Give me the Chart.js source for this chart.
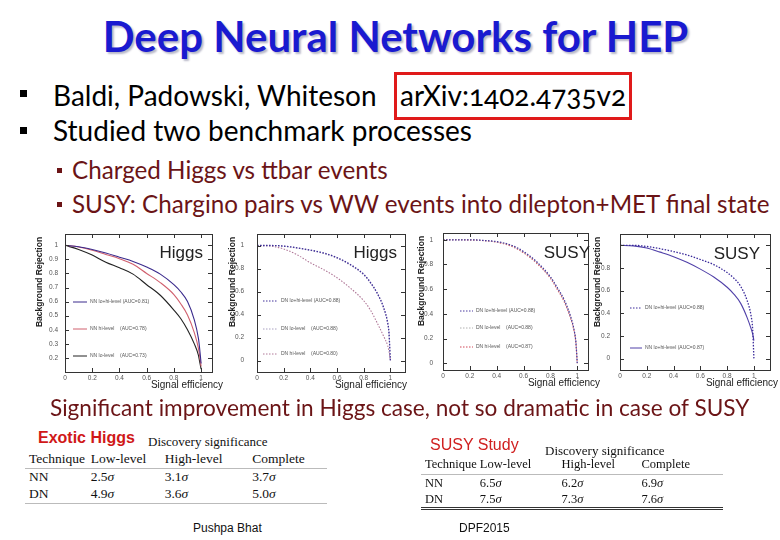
<!DOCTYPE html>
<html>
<head>
<meta charset="utf-8">
<script src="https://cdn.jsdelivr.net/npm/chart.js@4.4.1/dist/chart.umd.min.js"></script>
<style>
  html, body { margin: 0; padding: 0; background: #fff; }
  #slide { position: relative; width: 780px; height: 540px; overflow: hidden; background: #fff; font-family: Lato, "Open Sans", sans-serif; }
  .t { position: absolute; white-space: nowrap; line-height: 1; }
  .sq { position: absolute; }
  canvas { position: absolute; }
  .sig { position: absolute; border-collapse: collapse; font-family: "Liberation Serif", "DejaVu Serif", serif; color: #111; }
  .sig td { padding: 0; white-space: nowrap; }
  .cap { position: absolute; white-space: nowrap; line-height: 1; }
</style>
</head>
<body>
<div id="slide">
  <div class="t" style="left:0;width:791px;text-align:center;top:15px;font-size:42px;font-weight:bold;color:#1a1ad0;text-shadow:2px 2px 2px #b8b8c8;">Deep Neural Networks for HEP</div>

  <div class="sq" style="left:20px;top:90px;width:7px;height:7px;background:#000;"></div>
  <div class="t" style="left:53px;top:81px;font-size:28px;color:#000;">Baldi, Padowski, Whiteson</div>
  <div style="position:absolute;left:394px;top:72px;width:232px;height:42px;border:3px solid #e01a1a;"></div>
  <div class="t" style="left:400px;top:81px;font-size:28px;color:#000;font-variant-numeric:oldstyle-nums;">arXiv:1402.4735v2</div>

  <div class="sq" style="left:20px;top:127px;width:7px;height:7px;background:#000;"></div>
  <div class="t" style="left:53px;top:116px;font-size:28px;color:#000;">Studied two benchmark processes</div>

  <div class="sq" style="left:57px;top:168px;width:5px;height:5px;background:#6b1416;"></div>
  <div class="t" style="left:72px;top:158px;font-size:24.2px;color:#6b1416;">Charged Higgs vs ttbar events</div>
  <div class="sq" style="left:57px;top:202px;width:5px;height:5px;background:#6b1416;"></div>
  <div class="t" style="left:72px;top:192px;font-size:24.2px;color:#6b1416;">SUSY: Chargino pairs vs WW events into dilepton+MET final state</div>

  <canvas id="c1" width="200" height="168" style="left:30px;top:228px;"></canvas>
  <canvas id="c2" width="190" height="168" style="left:224px;top:228px;"></canvas>
  <canvas id="c3" width="190" height="168" style="left:410px;top:227px;"></canvas>
  <canvas id="c4" width="192" height="168" style="left:588px;top:228px;"></canvas>

  <div class="t" style="left:50px;top:397px;font-size:22.6px;color:#6b1416;">Significant improvement in Higgs case, not so dramatic in case of SUSY</div>

  <div class="cap" style="left:38px;top:430px;font-family:'Liberation Sans',Arial,sans-serif;font-size:16px;font-weight:bold;color:#d01818;">Exotic Higgs</div>
  <div class="cap" style="left:148px;top:435px;font-family:'Liberation Serif',serif;font-size:13px;color:#111;">Discovery significance</div>
  <table class="sig" id="tabHiggs" style="left:25px;top:451px;width:302px;font-size:13.5px;"></table>

  <div class="cap" style="left:430px;top:437px;font-family:'Liberation Sans',Arial,sans-serif;font-size:16px;color:#d02020;">SUSY Study</div>
  <div class="cap" style="left:545px;top:444px;font-family:'Liberation Serif',serif;font-size:13px;color:#111;">Discovery significance</div>
  <table class="sig" id="tabSusy" style="left:421px;top:456px;width:302px;font-size:12.5px;"></table>

  <div class="cap" style="left:193px;top:522px;font-family:'Liberation Sans',Arial,sans-serif;font-size:12px;color:#111;">Pushpa Bhat</div>
  <div class="cap" style="left:459px;top:522px;font-family:'Liberation Sans',Arial,sans-serif;font-size:12px;color:#111;">DPF2015</div>
</div>

<script>
// signal efficiency points shared by every ROC curve
const effSteps = [0, 0.1, 0.2, 0.3, 0.4, 0.5, 0.6, 0.7, 0.8, 0.85, 0.9, 0.95, 0.98, 0.99, 1.0];

// Higgs, shallow NN
const higgsNNLoHi = [1.0, 0.99, 0.97, 0.945, 0.915, 0.885, 0.845, 0.795, 0.72, 0.67, 0.60, 0.47, 0.34, 0.26, 0.16];
const higgsNNHi   = [1.0, 0.988, 0.965, 0.935, 0.905, 0.865, 0.80, 0.735, 0.65, 0.585, 0.505, 0.38, 0.27, 0.21, 0.14];
const higgsNNLo   = [1.0, 0.97, 0.93, 0.88, 0.84, 0.795, 0.72, 0.645, 0.54, 0.48, 0.40, 0.30, 0.22, 0.17, 0.12];

// Higgs, deep network
const higgsDNLoHi = [1.0, 1.0, 0.995, 0.98, 0.96, 0.935, 0.895, 0.835, 0.75, 0.68, 0.59, 0.46, 0.33, 0.24, 0.0];
const higgsDNLo   = [1.0, 1.0, 0.993, 0.978, 0.957, 0.93, 0.89, 0.83, 0.745, 0.675, 0.585, 0.455, 0.32, 0.23, 0.0];
const higgsDNHi   = [1.0, 0.995, 0.97, 0.92, 0.85, 0.79, 0.72, 0.63, 0.52, 0.44, 0.33, 0.21, 0.13, 0.08, 0.0];

// SUSY, deep network
const susyDNLoHi = [1.0, 1.0, 1.0, 0.995, 0.985, 0.96, 0.905, 0.82, 0.70, 0.615, 0.52, 0.38, 0.25, 0.17, 0.0];
const susyDNLo   = [1.0, 1.0, 1.0, 0.994, 0.983, 0.957, 0.90, 0.815, 0.695, 0.61, 0.515, 0.375, 0.245, 0.165, 0.0];
const susyDNHi   = [1.0, 1.0, 0.999, 0.993, 0.98, 0.952, 0.895, 0.808, 0.688, 0.60, 0.505, 0.365, 0.24, 0.16, 0.0];

// SUSY, DN vs NN on all inputs
const susyCmpDN = [1.0, 1.0, 0.99, 0.97, 0.945, 0.915, 0.875, 0.83, 0.76, 0.71, 0.64, 0.51, 0.37, 0.27, 0.0];
const susyCmpNN = [1.0, 0.995, 0.977, 0.94, 0.90, 0.85, 0.79, 0.72, 0.63, 0.57, 0.49, 0.36, 0.26, 0.22, 0.16];

// tick labels
const effTicks = ['0', '0.2', '0.4', '0.6', '0.8', '1'];
const higgsNNRejTicks = ['0.2', '0.3', '0.4', '0.5', '0.6', '0.7', '0.8', '0.9', '1'];
const rejTicks = ['0', '0.2', '0.4', '0.6', '0.8', '1'];

// discovery significance tables
const tableHeader = ['Technique', 'Low-level', 'High-level', 'Complete'];
const higgsSigNN = ['2.5', '3.1', '3.7'];
const higgsSigDN = ['4.9', '3.6', '5.0'];
const susySigNN = ['6.5', '6.2', '6.9'];
const susySigDN = ['7.5', '7.3', '7.6'];

const sans = "'Liberation Sans', Arial, sans-serif";

// box round the plot with inward ticks on all four sides
const framePlugin = {
    id: 'frame',
    afterDraw(chart) {
        const { ctx, chartArea: a, scales: { x, y } } = chart;
        ctx.save();
        ctx.strokeStyle = '#333';
        ctx.lineWidth = 1;
        ctx.strokeRect(Math.round(a.left) + 0.5, Math.round(a.top) + 0.5, Math.round(a.right - a.left), Math.round(a.bottom - a.top));
        ctx.beginPath();
        x.ticks.forEach(t => {
            const px = Math.round(x.getPixelForValue(t.value)) + 0.5;
            ctx.moveTo(px, a.bottom); ctx.lineTo(px, a.bottom - 4);
            ctx.moveTo(px, a.top); ctx.lineTo(px, a.top + 4);
        });
        y.ticks.forEach(t => {
            const py = Math.round(y.getPixelForValue(t.value)) + 0.5;
            ctx.moveTo(a.left, py); ctx.lineTo(a.left + 4, py);
            ctx.moveTo(a.right, py); ctx.lineTo(a.right - 4, py);
        });
        ctx.stroke();
        ctx.restore();
    }
};

// legend drawn inside the plot, left side
const inLegendPlugin = {
    id: 'inlegend',
    afterDraw(chart, args, opts) {
        const { ctx, chartArea: a } = chart;
        ctx.save();
        ctx.font = '5px ' + sans;
        ctx.textBaseline = 'middle';
        chart.data.datasets.forEach((ds, i) => {
            const yy = a.top + opts.rows[i];
            const x0 = a.left + opts.dx;
            ctx.strokeStyle = ds.borderColor;
            ctx.lineWidth = 1;
            ctx.setLineDash(ds.borderDash || []);
            ctx.beginPath();
            ctx.moveTo(x0, yy); ctx.lineTo(x0 + opts.len, yy);
            ctx.stroke();
            ctx.setLineDash([]);
            ctx.fillStyle = '#555';
            ctx.fillText(ds.label, x0 + opts.len + 3, yy);
        });
        ctx.restore();
    }
};

// process tag in the corner plus both axis titles, placed as on the original figures
const tagPlugin = {
    id: 'tag',
    afterDraw(chart, args, opts) {
        const { ctx, chartArea: a } = chart;
        ctx.save();
        ctx.font = '17px ' + sans;
        ctx.fillStyle = '#222';
        ctx.textAlign = 'right';
        ctx.textBaseline = 'alphabetic';
        ctx.fillText(opts.text, a.right - opts.dx, a.top + opts.dy);
        ctx.font = '10px ' + sans;
        ctx.textBaseline = 'middle';
        ctx.fillText('Signal efficiency', a.right + opts.titleShift, a.bottom + 13);
        ctx.translate(a.left - opts.yTitleGap, a.top + 48);
        ctx.rotate(-Math.PI / 2);
        ctx.textAlign = 'center';
        ctx.font = 'bold 8.5px ' + sans;
        ctx.fillText('Background Rejection', 0, 0);
        ctx.restore();
    }
};

function noEdgePadding(s) {
    s.paddingLeft = 0; s.paddingRight = 0; s.paddingTop = 0; s.paddingBottom = 0;
}

function makeChart(id, cfg) {
    const datasets = cfg.series.map(s => ({
        label: s.label,
        data: effSteps.map((e, i) => ({ x: e, y: s.values[i] })),
        borderColor: s.color,
        borderWidth: s.width || 1,
        borderDash: s.dash || [],
        pointRadius: 0,
        cubicInterpolationMode: 'monotone',
        fill: false
    }));
    return new Chart(document.getElementById(id), {
        type: 'line',
        data: { datasets: datasets },
        options: {
            responsive: false,
            animation: false,
            layout: { padding: { top: cfg.box.top, right: cfg.box.right, bottom: 0, left: 0 } },
            plugins: {
                legend: { display: false },
                tooltip: { enabled: false },
                inlegend: cfg.legend,
                tag: cfg.tag
            },
            scales: {
                x: {
                    type: 'linear',
                    min: 0,
                    max: cfg.xMax,
                    afterBuildTicks: s => { s.ticks = effTicks.map(t => ({ value: parseFloat(t) })); },
                    afterFit: s => { s.height = cfg.box.bottom; noEdgePadding(s); },
                    grid: { display: false, drawTicks: false, tickLength: 0 },
                    border: { display: false },
                    ticks: {
                        callback: (v, i) => effTicks[i],
                        font: { size: 6.5, family: sans },
                        color: '#555',
                        padding: 2,
                        maxRotation: 0,
                        autoSkip: false
                    }
                },
                y: {
                    type: 'linear',
                    min: cfg.yMin,
                    max: cfg.yMax,
                    afterBuildTicks: s => { s.ticks = cfg.yTicks.map(t => ({ value: parseFloat(t) })); },
                    afterFit: s => { s.width = cfg.box.left; noEdgePadding(s); },
                    grid: { display: false, drawTicks: false, tickLength: 0 },
                    border: { display: false },
                    ticks: {
                        callback: (v, i) => (cfg.skipTop && i === cfg.yTicks.length - 1) ? '' : cfg.yTicks[i],
                        font: { size: 6.5, family: sans },
                        color: '#555',
                        padding: cfg.yPad,
                        autoSkip: false
                    }
                }
            }
        },
        plugins: [framePlugin, inLegendPlugin, tagPlugin]
    });
}

makeChart('c1', {
    series: [
        { label: 'NN lo+hi-level (AUC=0.81)', values: higgsNNLoHi, color: '#3a2a8c', width: 1.1 },
        { label: 'NN hi-level    (AUC=0.78)', values: higgsNNHi, color: '#d0606e', width: 1.1 },
        { label: 'NN lo-level    (AUC=0.73)', values: higgsNNLo, color: '#222222', width: 1.1 }
    ],
    xMax: 1.08, yMin: 0.1, yMax: 1.08, yTicks: higgsNNRejTicks, yPad: 7,
    box: { left: 35, top: 6, right: 18, bottom: 24 },
    legend: { dx: 8, len: 14, rows: [68, 95, 122] },
    tag: { text: 'Higgs', dx: 9, dy: 24, titleShift: 11, yTitleGap: 25 }
});

makeChart('c2', {
    series: [
        { label: 'DN lo+hi-level (AUC=0.88)', values: higgsDNLoHi, color: '#40309a', width: 1.3, dash: [1.5, 1.5] },
        { label: 'DN lo-level    (AUC=0.88)', values: higgsDNLo, color: '#a8a0c0', width: 1.1, dash: [1.5, 1.5] },
        { label: 'DN hi-level    (AUC=0.80)', values: higgsDNHi, color: '#b07898', width: 1.1, dash: [1.5, 1.5] }
    ],
    xMax: 1.11, yMin: -0.1, yMax: 1.1, yTicks: rejTicks, yPad: 13,
    box: { left: 33, top: 6, right: 9, bottom: 24 },
    legend: { dx: 6, len: 15, rows: [67, 95, 120] },
    tag: { text: 'Higgs', dx: 8, dy: 24, titleShift: 2, yTitleGap: 24 }
});

makeChart('c3', {
    series: [
        { label: 'DN lo+hi-level (AUC=0.88)', values: susyDNLoHi, color: '#4a3aa0', width: 1.2, dash: [1.5, 1.5] },
        { label: 'DN lo-level    (AUC=0.88)', values: susyDNLo, color: '#b0b0b0', width: 1.1, dash: [1.5, 1.5] },
        { label: 'DN hi-level    (AUC=0.87)', values: susyDNHi, color: '#d04858', width: 1.1, dash: [1.5, 1.5] }
    ],
    xMax: 1.08, yMin: -0.055, yMax: 1.055, yTicks: rejTicks, yPad: 10,
    box: { left: 33, top: 6, right: 12, bottom: 25 },
    legend: { dx: 17, len: 13, rows: [78, 95, 114] },
    tag: { text: 'SUSY', dx: -2, dy: 25, titleShift: 12, yTitleGap: 21 }
});

makeChart('c4', {
    series: [
        { label: 'DN lo+hi-level (AUC=0.88)', values: susyCmpDN, color: '#3a2a9a', width: 1.3, dash: [1.5, 1.5] },
        { label: 'NN lo+hi-level (AUC=0.87)', values: susyCmpNN, color: '#5040a8', width: 1.1 }
    ],
    xMax: 1.12, yMin: -0.1, yMax: 1.1, yTicks: rejTicks, yPad: 10, skipTop: true,
    box: { left: 32, top: 6, right: 10, bottom: 26 },
    legend: { dx: 10, len: 12, rows: [74, 114] },
    tag: { text: 'SUSY', dx: 10, dy: 25, titleShift: 8, yTitleGap: 22 }
});

// tables
function fillTable(id, widths, rowH, rows, ruleBottom) {
    const tab = document.getElementById(id);
    rows.forEach((cells, r) => {
        const tr = document.createElement('tr');
        tr.style.height = rowH[r] + 'px';
        if (r === 0) tr.style.borderBottom = '1px solid #bbb';
        if (r === rows.length - 1) tr.style.borderBottom = ruleBottom;
        cells.forEach((c, k) => {
            const td = document.createElement('td');
            td.style.width = widths[k] + 'px';
            if (k === 0) td.style.paddingLeft = '4px';
            td.innerHTML = c;
            tr.appendChild(td);
        });
        tab.appendChild(tr);
    });
}
const sigma = v => v + '<i>&sigma;</i>';
fillTable('tabHiggs', [62, 75, 89, 76], [17, 18, 17],
    [tableHeader, ['NN'].concat(higgsSigNN.map(sigma)), ['DN'].concat(higgsSigDN.map(sigma))],
    '1px solid #bbb');
fillTable('tabSusy', [55, 83, 81, 83], [18, 18, 15],
    [tableHeader, ['NN'].concat(susySigNN.map(sigma)), ['DN'].concat(susySigDN.map(sigma))],
    '3px double #333');
</script>
</body>
</html>
